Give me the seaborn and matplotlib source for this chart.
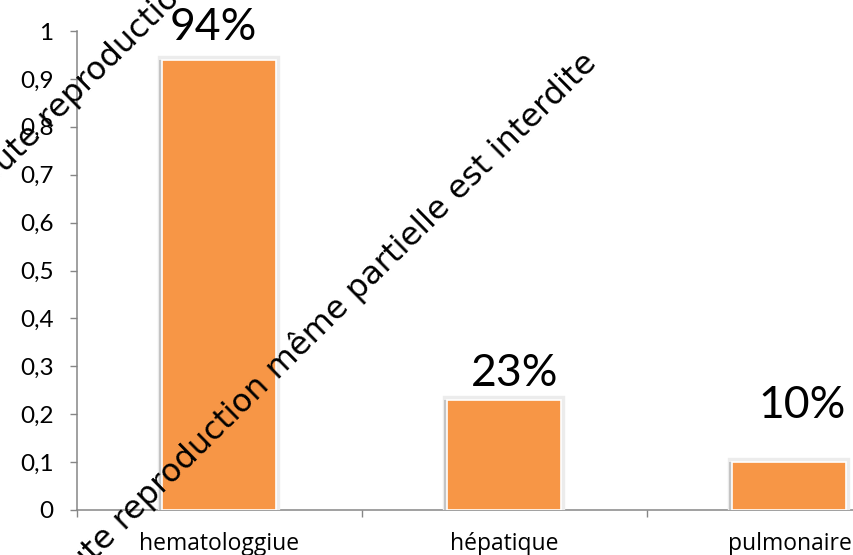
import math
import matplotlib
matplotlib.use("Agg")
import matplotlib.pyplot as plt
import matplotlib.patheffects as pe
from matplotlib.font_manager import FontProperties
from matplotlib.ticker import FixedLocator, FuncFormatter
import seaborn as sns

# Data
categories = ["hematologgiue", "hépatique", "pulmonaire"]
values = [0.94, 0.23, 0.10]
y_ticks = [0, 0.1, 0.2, 0.3, 0.4, 0.5, 0.6, 0.7, 0.8, 0.9, 1.0]
watermark = "Toute reproduction même partielle est interdite"

BAR_COLOR = "#F79646"
AXIS_COLOR = "#868686"

sns.set_style("white")
plt.rcParams["font.family"] = ["Lato", "DejaVu Sans"]

W, H = 854, 555
fig = plt.figure(figsize=(W / 100, H / 100), dpi=100)
# plot area: x axis runs from 77 px to past the right edge of the canvas
ax = fig.add_axes([77 / W, 45 / H, 855 / W, 479 / H])

sns.barplot(x=categories, y=values, color=BAR_COLOR, width=0.4,
            saturation=1, ax=ax, edgecolor="white", linewidth=1.2, zorder=3)

for bar in ax.patches:
    bar.set_path_effects([
        pe.Stroke(linewidth=6, foreground="#ececec"),
        pe.SimplePatchShadow(offset=(-2.5, 0), shadow_rgbFace="#c4c4c4", alpha=1.0),
        pe.Normal(),
    ])

ax.set_xlim(-0.5, len(categories) - 0.5)
ax.set_ylim(0, 1)

# y axis
ax.yaxis.set_major_locator(FixedLocator(y_ticks))
ax.yaxis.set_major_formatter(FuncFormatter(lambda v, p: f"{v:g}".replace(".", ",")))
ax.tick_params(axis="y", which="major", left=True, direction="out", length=5,
               width=1, color=AXIS_COLOR, pad=12, labelsize=17.5, labelcolor="black")

# x axis: labels at category centres, tick marks between categories
ax.set_xticks(range(len(categories)))
ax.set_xticklabels(categories)
ax.set_xticks([i - 0.5 for i in range(len(categories) + 1)], minor=True)
ax.tick_params(axis="x", which="major", bottom=True, length=0, pad=16,
               labelsize=16.5, labelcolor="black")
ax.tick_params(axis="x", which="minor", bottom=True, direction="out", length=5,
               width=1, color=AXIS_COLOR)
for lbl in ax.get_xticklabels():
    lbl.set_fontfamily("Open Sans")

for side in ("top", "right"):
    ax.spines[side].set_visible(False)
for side in ("left", "bottom"):
    ax.spines[side].set_color(AXIS_COLOR)
    ax.spines[side].set_linewidth(1.1)
ax.set_xlabel("")
ax.set_ylabel("")
ax.grid(False)

# value labels above the bars
label_offsets = [(-4.3, 14.4), (7.2, 10.0), (9.4, 31.7)]
for i, (v, off) in enumerate(zip(values, label_offsets)):
    ax.annotate(f"{round(v * 100)}%", xy=(i, v), xytext=off,
                textcoords="offset points", ha="center", va="baseline",
                fontsize=32, color="black", zorder=5)

# diagonal watermark, repeated; laid out in pixel space from the top-left corner
renderer = fig.canvas.get_renderer()
wm_angle = 44.6
wm_run = 708.0          # pixel length of the text after the hidden "Tou"
prop = FontProperties(family="DejaVu Sans", size=10)
tail_w = renderer.get_text_width_height_descent(watermark[3:], prop, ismath=False)[0]
wm_size = 10 * wm_run / tail_w
prop.set_size(wm_size)
head_w = renderer.get_text_width_height_descent(watermark[:3], prop, ismath=False)[0]
ux, uy = math.cos(math.radians(wm_angle)), -math.sin(math.radians(wm_angle))
for (px, py) in [(20, 159), (95, 561)]:
    ax_px, ay_px = px - head_w * ux, py - head_w * uy
    fig.text(ax_px / W, 1 - ay_px / H, watermark, rotation=wm_angle,
             rotation_mode="anchor", ha="left", va="baseline",
             fontproperties=prop, color="black", zorder=10)

fig.savefig("out.png", dpi=100)
